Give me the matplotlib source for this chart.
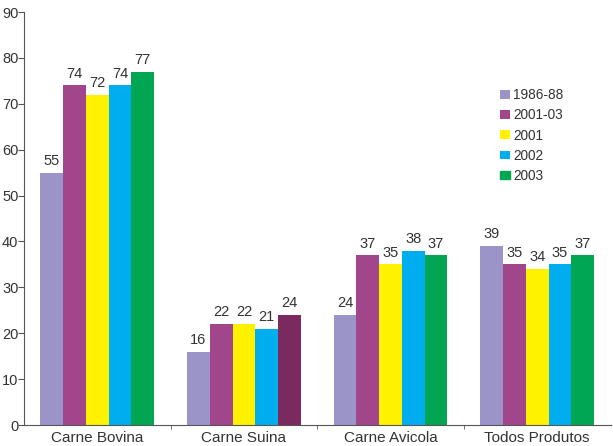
import numpy as np
import matplotlib.pyplot as plt

categories = ['Carne Bovina', 'Carne Suina', 'Carne Avicola', 'Todos Produtos']
series = ['1986-88', '2001-03', '2001', '2002', '2003']
v1986_88 = [55, 16, 24, 39]
v2001_03 = [74, 22, 37, 35]
v2001 = [72, 22, 35, 34]
v2002 = [74, 21, 38, 35]
v2003 = [77, 24, 37, 37]
values = [v1986_88, v2001_03, v2001, v2002, v2003]
colors = ['#9b94c9', '#a2468b', '#fff200', '#00aeef', '#00a651']
# the 2003 bar of Carne Suina is drawn in a dark purple in the original
odd_color = '#7b2a5f'

plt.rcParams['font.family'] = ['Liberation Sans', 'DejaVu Sans']
text_col = '#333333'

fig = plt.figure(figsize=(6.13, 4.46), dpi=100)
ax = fig.add_axes([0.039, 0.047, 0.957, 0.926])

x = np.arange(len(categories))
w = 0.155
for i, (s, vals) in enumerate(zip(series, values)):
    pos = x + (i - 2) * w
    cols = [colors[i]] * len(vals)
    if s == '2003':
        cols[1] = odd_color
    bars = ax.bar(pos, vals, w, color=cols, label=s)
    for b, v in zip(bars, vals):
        ax.text(b.get_x() + b.get_width() / 2, v + 1, str(v), ha='center', va='bottom',
                fontsize=10.5, color=text_col)

ax.set_xlim(-0.5, 3.5)
ax.set_ylim(0, 90)
ax.set_yticks(range(0, 91, 10))
ax.tick_params(axis='y', labelsize=10.5, labelcolor=text_col, length=4, pad=0, color='#555555')
ax.set_xticks(x)
ax.set_xticklabels(categories)
ax.set_xticks([0.5, 1.5, 2.5], minor=True)
ax.tick_params(axis='x', which='major', length=0, labelsize=11, labelcolor=text_col, pad=4)
ax.tick_params(axis='x', which='minor', length=3, color='#555555')
for sp in ['top', 'right']:
    ax.spines[sp].set_visible(False)
for sp in ['left', 'bottom']:
    ax.spines[sp].set_color('#555555')
    ax.spines[sp].set_linewidth(0.8)

leg = ax.legend(loc='upper left', bbox_to_anchor=(0.79, 0.845), frameon=False, fontsize=9.8,
                handlelength=0.8, handleheight=0.6, handletextpad=0.2, labelspacing=0.45)
for t in leg.get_texts():
    t.set_color(text_col)
leg.legend_handles[4].set_color(colors[4])

fig.savefig('out.png', dpi=100)
